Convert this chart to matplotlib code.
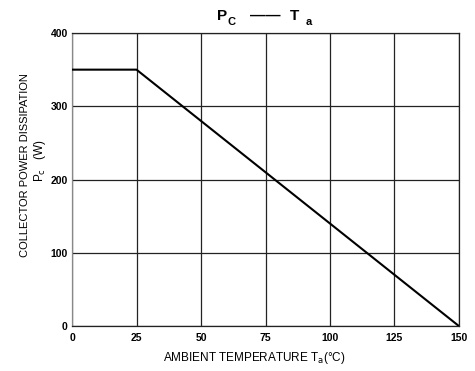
import matplotlib.pyplot as plt

# derating curve
temp = [0, 25, 150]
power = [350, 350, 0]
xticks = [0, 25, 50, 75, 100, 125, 150]
yticks = [0, 100, 200, 300, 400]

plt.rcParams['font.family'] = ['Liberation Sans', 'DejaVu Sans']

fig = plt.figure(figsize=(4.75, 3.71), dpi=100)
ax = fig.add_axes([0.1516, 0.121, 0.8147, 0.790])

ax.plot(temp, power, color='black', lw=1.5, zorder=3)

ax.set_xlim(0, 150)
ax.set_ylim(0, 400)
ax.set_xticks(xticks)
ax.set_yticks(yticks)
ax.grid(True, color='#222222', lw=0.9)
ax.tick_params(length=0, labelsize=7.5)
ax.tick_params(axis='x', pad=5)
ax.tick_params(axis='y', pad=3)
for lab in ax.get_xticklabels() + ax.get_yticklabels():
    lab.set_fontweight('bold')
for s in ['top', 'right', 'bottom']:
    ax.spines[s].set_color('#222222')
ax.spines['left'].set_color('#888888')
for s in ax.spines.values():
    s.set_linewidth(0.9)

fig.text(0.053, 0.555, 'COLLECTOR POWER DISSIPATION', rotation=90,
         ha='center', va='center', fontsize=8)
fig.text(0.084, 0.566, r'P$_{\mathrm{c}}$   (W)', rotation=90,
         ha='center', va='center', fontsize=8.5)
fig.text(0.535, 0.035, r'AMBIENT TEMPERATURE T$_{\mathrm{a}}$(°C)',
         ha='center', va='center', fontsize=8.5)

# title pieces, spaced like the original
fig.text(217/475, 1 - 20/371, 'P', ha='left', va='baseline',
         fontsize=11, fontweight='bold')
fig.text(228/475, 1 - 25/371, 'C', ha='left', va='baseline',
         fontsize=8, fontweight='bold')
fig.text(265/475, 1 - 20/371, '——', ha='center', va='baseline',
         fontsize=11, fontweight='bold')
fig.text(290/475, 1 - 20/371, 'T', ha='left', va='baseline',
         fontsize=11, fontweight='bold')
fig.text(306/475, 1 - 25/371, 'a', ha='left', va='baseline',
         fontsize=8, fontweight='bold')

fig.savefig('out.png', dpi=100)
